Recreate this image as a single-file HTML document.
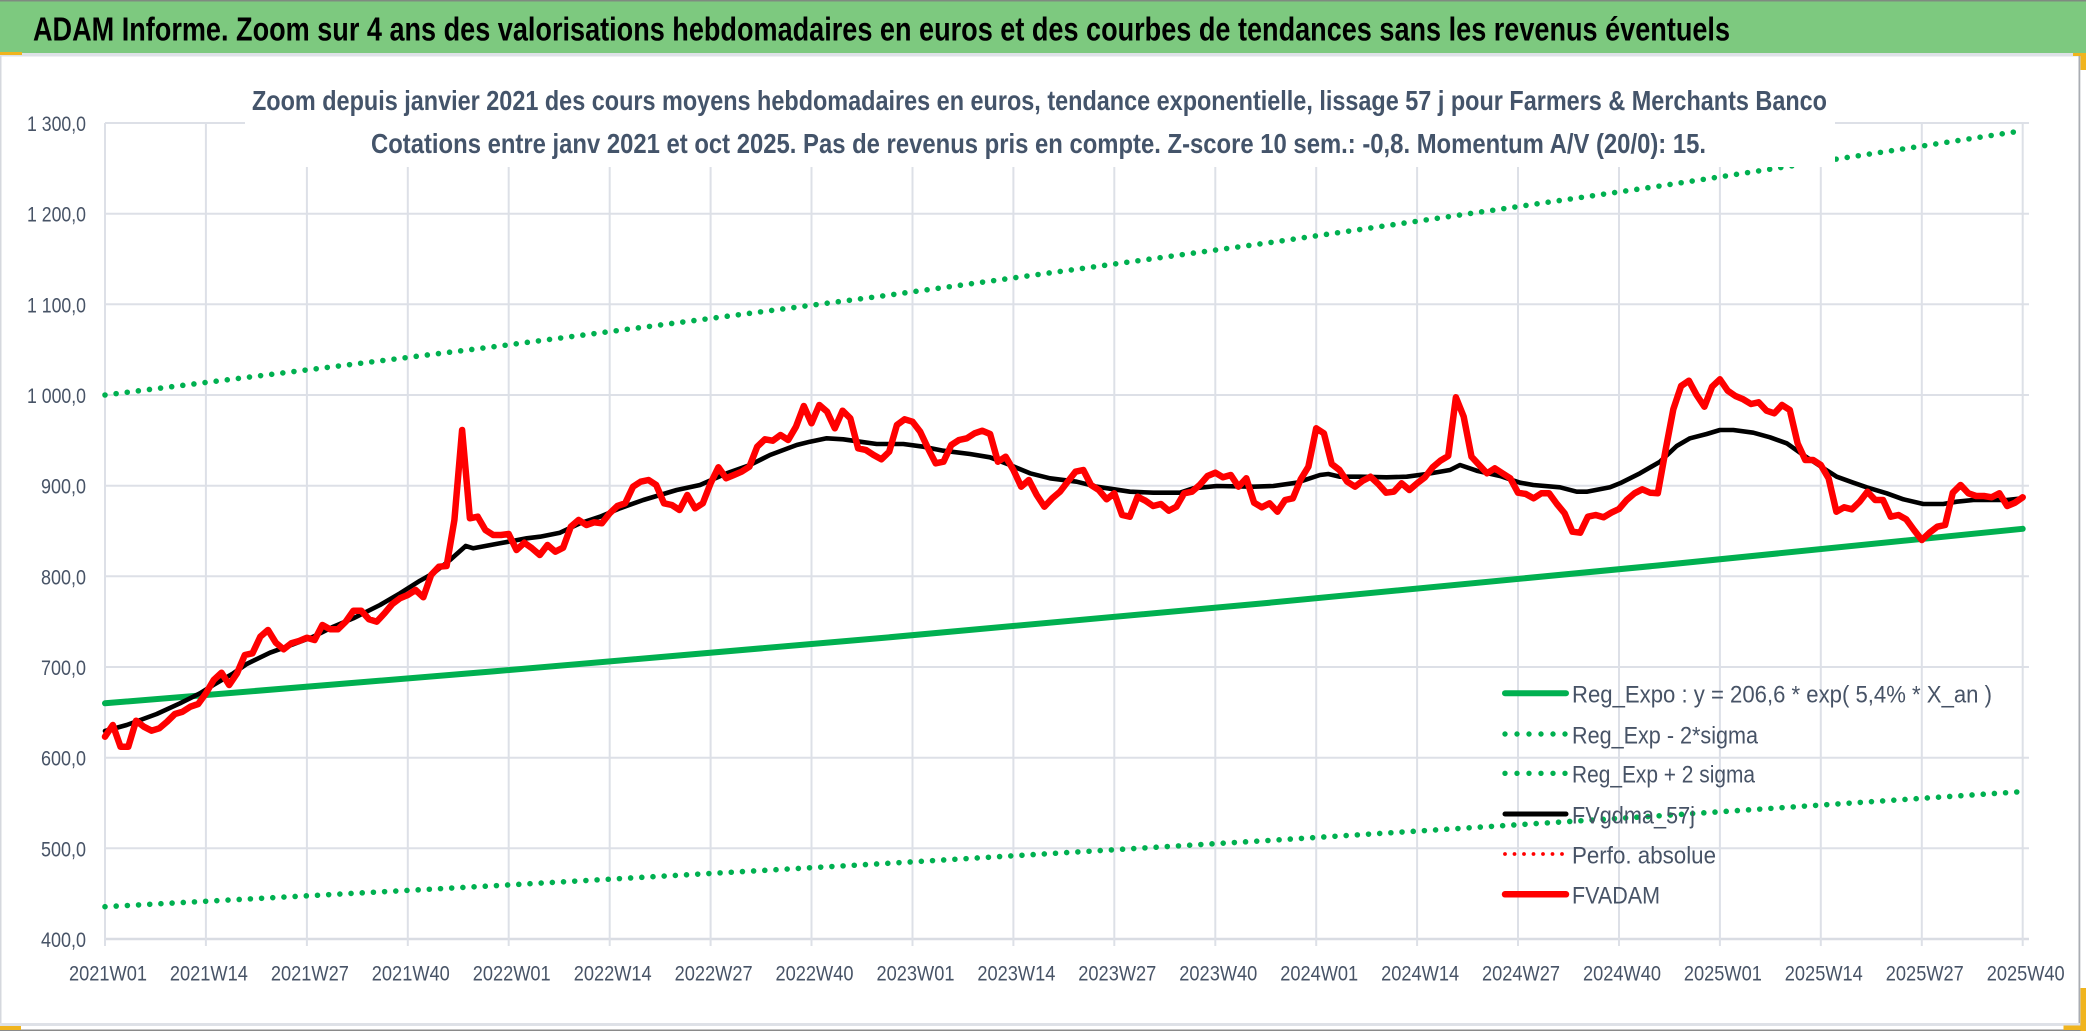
<!DOCTYPE html>
<html>
<head>
<meta charset="utf-8">
<style>
html,body{margin:0;padding:0;background:#fff;}
body{width:2086px;height:1031px;overflow:hidden;}
svg{display:block;}
text{font-family:"Liberation Sans",Arial,sans-serif;}
</style>
</head>
<body>
<svg width="2086" height="1031" viewBox="0 0 2086 1031" xmlns="http://www.w3.org/2000/svg">
  <!-- backgrounds -->
  <rect x="0" y="0" width="2086" height="1031" fill="#ffffff"/>
  <rect x="0" y="0" width="2086" height="53" fill="#7DC97F"/>
  <rect x="0" y="0" width="2086" height="1.5" fill="#7f8a80"/>
  <rect x="0" y="53" width="2086" height="3.5" fill="#DEE1E7"/>
  <rect x="0" y="52" width="22" height="3" fill="#F0B41E"/>
  <rect x="0" y="56" width="1.5" height="970" fill="#D5D8DE"/>
  <rect x="2078.5" y="56" width="1.8" height="970" fill="#A9ADB3"/>
  <rect x="0" y="1023" width="2080" height="3" fill="#DEE1E7"/>
  <rect x="0" y="1029.5" width="2086" height="1.5" fill="#8a8a8a"/>
  <rect x="0" y="1026" width="21" height="4" fill="#F0B41E"/>
  <rect x="2080.5" y="54" width="5.5" height="16" fill="#F0B41E"/>
  <rect x="2073" y="53" width="13" height="3" fill="#F0B41E"/>
  <rect x="2080.5" y="988" width="5.5" height="43" fill="#F0B41E"/>
  <rect x="2063.5" y="1025.5" width="22.5" height="4.5" fill="#F0B41E"/>

  <!-- header title -->
  <text x="33" y="40.5" font-size="33.5" font-weight="bold" fill="#000" textLength="1697" lengthAdjust="spacingAndGlyphs">ADAM Informe. Zoom sur 4 ans des valorisations hebdomadaires en euros et des courbes de tendances sans les revenus éventuels</text>

  <!-- horizontal gridlines -->
  <g stroke="#DDE0E7" stroke-width="2">
    <line x1="105" y1="123" x2="2029" y2="123"/>
    <line x1="105" y1="213.7" x2="2029" y2="213.7"/>
    <line x1="105" y1="304.3" x2="2029" y2="304.3"/>
    <line x1="105" y1="395" x2="2029" y2="395"/>
    <line x1="105" y1="485.7" x2="2029" y2="485.7"/>
    <line x1="105" y1="576.3" x2="2029" y2="576.3"/>
    <line x1="105" y1="667" x2="2029" y2="667"/>
    <line x1="105" y1="757.7" x2="2029" y2="757.7"/>
    <line x1="105" y1="848.3" x2="2029" y2="848.3"/>
  </g>
  <line x1="105" y1="939" x2="2029" y2="939" stroke="#D9DCE3" stroke-width="2.5"/>
  <!-- vertical gridlines + ticks -->
  <g stroke="#DDE0E7" stroke-width="2">
    <line x1="105" y1="123" x2="105" y2="946"/>
    <line x1="205.9" y1="123" x2="205.9" y2="946"/>
    <line x1="306.9" y1="123" x2="306.9" y2="946"/>
    <line x1="407.8" y1="123" x2="407.8" y2="946"/>
    <line x1="508.7" y1="123" x2="508.7" y2="946"/>
    <line x1="609.7" y1="123" x2="609.7" y2="946"/>
    <line x1="710.6" y1="123" x2="710.6" y2="946"/>
    <line x1="811.5" y1="123" x2="811.5" y2="946"/>
    <line x1="912.5" y1="123" x2="912.5" y2="946"/>
    <line x1="1013.4" y1="123" x2="1013.4" y2="946"/>
    <line x1="1114.3" y1="123" x2="1114.3" y2="946"/>
    <line x1="1215.3" y1="123" x2="1215.3" y2="946"/>
    <line x1="1316.2" y1="123" x2="1316.2" y2="946"/>
    <line x1="1417.1" y1="123" x2="1417.1" y2="946"/>
    <line x1="1518" y1="123" x2="1518" y2="946"/>
    <line x1="1619" y1="123" x2="1619" y2="946"/>
    <line x1="1719.9" y1="123" x2="1719.9" y2="946"/>
    <line x1="1820.8" y1="123" x2="1820.8" y2="946"/>
    <line x1="1921.8" y1="123" x2="1921.8" y2="946"/>
    <line x1="2022.7" y1="123" x2="2022.7" y2="946"/>
  </g>

  <!-- Reg_Expo solid -->
  <polyline fill="none" stroke="#00B050" stroke-width="6" stroke-linecap="round" stroke-linejoin="round"
    points="105,703.3 493.2,671.4 881.4,638 1269.6,602.7 1657.8,565.5 2022.7,528.8"/>
  <!-- upper dotted -->
  <polyline fill="none" stroke="#00B050" stroke-width="5.6" stroke-linecap="round" stroke-dasharray="0 11.2"
    points="105,395 493.2,346.8 881.4,296.1 1269.6,242.6 1657.8,186.3 2022.7,130.7"/>
  <!-- lower dotted -->
  <polyline fill="none" stroke="#00B050" stroke-width="5.6" stroke-linecap="round" stroke-dasharray="0 11.2"
    points="105,906.7 493.2,885.8 881.4,863.7 1269.6,840.4 1657.8,815.9 2022.7,791.6"/>

  <!-- FVgdma_57j black -->
  <polyline fill="none" stroke="#000" stroke-width="4.6" stroke-linecap="round" stroke-linejoin="round"
    points="105,731 126.7,725 156.7,714 180,703.3 200,693.3 213.3,685 233.3,673.3 246.7,664 270,652.7 286.7,646.7 313.3,636.7 333.3,626.7 353.3,618.3 380,605 400,593.3 420,580.7 433.3,573.3 450,560 465.7,546 473.3,548.3 500,543.3 526.7,538.3 540,536.7 560,532.7 580,523.3 600,516.7 620,508.3 643.3,500 676.7,490 700,485 726.7,473.3 750,465 770,455 796.7,445 810,441.7 826.7,438.3 843.3,439.3 860,441.7 876.7,444 903.3,444 923.3,446.7 943.3,450.7 970,454 990,457.3 1010,465 1030,473.3 1050,478.3 1076.7,481.7 1096.7,486.7 1130,491.7 1153.3,492.7 1180,492.7 1193.3,488.3 1216.7,486 1253.3,486.7 1273.3,486 1296.7,482.7 1320,475 1328.3,474 1340,476.7 1360,476.7 1386.7,477.3 1406.7,476.7 1426.7,474 1450,470 1460,465 1476.7,470.7 1500,476 1520,482.7 1533.3,485 1560,487.3 1576.7,491.7 1586.7,491.7 1610,487.3 1620,483.3 1640,473.3 1660,461.7 1676.7,446 1690,438.3 1706.7,434 1720,430 1733.3,430 1753.3,432.7 1770,437.3 1786.7,443.3 1803.3,455 1820,466 1836.7,476.7 1853.3,482.7 1866.7,487.3 1886.7,493.3 1903.3,499.3 1923.3,504 1943.3,504 1956.7,501.7 1973.3,500 1993.3,500 2006.7,500 2022.7,498.3"/>

  <!-- FVADAM red -->
  <polyline fill="none" stroke="#FF0000" stroke-width="6.5" stroke-linecap="round" stroke-linejoin="round"
    points="105,736.7 112.8,725 120.5,746.7 128.3,746.7 136.1,720.7 143.8,726.7 151.6,730.7 159.3,728.3 167.1,721.7 174.9,714 182.6,711.7 190.4,706.7 198.2,704 205.9,693.3 213.7,680 221.5,672.7 229.2,685 237,673.3 244.8,655 252.5,653.3 260.3,636.7 268,630 275.8,642.7 283.6,649.3 291.3,643.3 299.1,641 306.9,637.7 314.6,640 322.4,625 330.2,629.3 337.9,629.3 345.7,621.7 353.4,610.7 361.2,610.7 369,619.3 376.7,621.7 384.5,613.3 392.3,604 400,598.3 407.8,595 415.6,590 423.3,597.3 431.1,575 438.9,566.7 446.6,566 454.4,520 462.1,430 469.9,518.3 477.7,516.7 485.4,530 493.2,535 501,535 508.7,534 516.5,550 524.3,542.7 532,548.3 539.8,555 547.5,545 555.3,551.7 563.1,547.7 570.8,526.7 578.6,520 586.4,525 594.1,522.3 601.9,523.3 609.7,513.3 617.4,506 625.2,503.3 633,486.7 640.7,481.7 648.5,480 656.2,485 664,503.3 671.8,505 679.5,510 687.3,495 695.1,508.3 702.8,503.3 710.6,483.3 718.4,467.3 726.1,478.3 733.9,475 741.6,471.7 749.4,466.7 757.2,446.7 764.9,439.3 772.7,440.7 780.5,435 788.2,440 796,426.7 803.8,406 811.5,423.3 819.3,405 827.1,411.7 834.8,428.3 842.6,410.7 850.3,418.3 858.1,448.3 865.9,450 873.6,455 881.4,459.3 889.2,451.7 896.9,425 904.7,419.3 912.5,421.7 920.2,431.7 928,448.3 935.7,463.3 943.5,461.7 951.3,445 959,440 966.8,438.3 974.6,433.3 982.3,430.7 990.1,434 997.9,461.7 1005.6,456.7 1013.4,470 1021.2,486.7 1028.9,480 1036.7,495 1044.4,506.7 1052.2,498.3 1060,491.7 1067.7,481.7 1075.5,471.7 1083.3,470 1091,485 1098.8,490 1106.6,499.3 1114.3,493.3 1122.1,515 1129.8,516.7 1137.6,496.7 1145.4,500.7 1153.1,506 1160.9,504 1168.7,510.7 1176.4,506.7 1184.2,493.3 1192,491.7 1199.7,485 1207.5,476 1215.3,472.7 1223,477.3 1230.8,475 1238.5,486.7 1246.3,478.3 1254.1,502.7 1261.8,507.3 1269.6,503.3 1277.4,511.7 1285.1,500 1292.9,498.3 1300.7,479.3 1308.4,466.7 1316.2,428.3 1323.9,433.3 1331.7,464 1339.5,470 1347.2,481.7 1355,486.7 1362.8,480.7 1370.5,476.7 1378.3,484 1386.1,492.7 1393.8,491.7 1401.6,483.3 1409.4,490 1417.1,483.3 1424.9,477.3 1432.6,467.3 1440.4,460.7 1448.2,456 1455.9,397.3 1463.7,416.7 1471.5,456.7 1479.2,465 1487,473.3 1494.8,468.3 1502.5,473.3 1510.3,478.3 1518,492.7 1525.8,494 1533.6,498.3 1541.3,493.3 1549.1,493.3 1556.9,504 1564.6,513.3 1572.4,531.7 1580.2,532.7 1587.9,516.7 1595.7,515 1603.5,517.3 1611.2,512.7 1619,509 1626.7,500 1634.5,493.3 1642.3,489.3 1650,492.7 1657.8,493.3 1665.6,450 1673.3,409.3 1681.1,386 1688.9,380.7 1696.6,395 1704.4,406.7 1712.1,386.7 1719.9,379.3 1727.7,390.7 1735.4,396 1743.2,399.3 1751,404 1758.7,402.3 1766.5,410.7 1774.3,413.3 1782,405 1789.8,410 1797.6,443.3 1805.3,460 1813.1,460 1820.8,465 1828.6,478.3 1836.4,511.7 1844.1,507.3 1851.9,509.3 1859.7,501.7 1867.4,491.7 1875.2,500 1883,500 1890.7,516.7 1898.5,515 1906.2,519.3 1914,530 1921.8,540 1929.5,532.7 1937.3,526.7 1945.1,525 1952.8,492.7 1960.6,485 1968.4,493.3 1976.1,496 1983.9,496 1991.7,497.3 1999.4,493.3 2007.2,506 2015,502.7 2022.7,497.3"/>

  <!-- title box (white, covers gridlines) -->
  <rect x="245" y="57" width="1590" height="110" fill="#ffffff"/>
  <text x="252" y="110" font-size="28" font-weight="bold" fill="#44546A" textLength="1575" lengthAdjust="spacingAndGlyphs">Zoom depuis janvier 2021 des cours moyens hebdomadaires en euros, tendance exponentielle, lissage 57 j pour Farmers &amp; Merchants Banco</text>
  <text x="371" y="153" font-size="28" font-weight="bold" fill="#44546A" textLength="1335" lengthAdjust="spacingAndGlyphs">Cotations entre janv 2021 et oct 2025. Pas de revenus pris en compte. Z-score 10 sem.: -0,8. Momentum A/V (20/0): 15.</text>

  <!-- Y axis labels -->
  <g font-size="21" fill="#475366" text-anchor="end">
    <text x="86" y="131" textLength="59" lengthAdjust="spacingAndGlyphs">1 300,0</text>
    <text x="86" y="221.7" textLength="59" lengthAdjust="spacingAndGlyphs">1 200,0</text>
    <text x="86" y="312.3" textLength="59" lengthAdjust="spacingAndGlyphs">1 100,0</text>
    <text x="86" y="403" textLength="59" lengthAdjust="spacingAndGlyphs">1 000,0</text>
    <text x="86" y="493.7" textLength="45" lengthAdjust="spacingAndGlyphs">900,0</text>
    <text x="86" y="584.3" textLength="45" lengthAdjust="spacingAndGlyphs">800,0</text>
    <text x="86" y="675" textLength="45" lengthAdjust="spacingAndGlyphs">700,0</text>
    <text x="86" y="765.7" textLength="45" lengthAdjust="spacingAndGlyphs">600,0</text>
    <text x="86" y="856.3" textLength="45" lengthAdjust="spacingAndGlyphs">500,0</text>
    <text x="86" y="947" textLength="45" lengthAdjust="spacingAndGlyphs">400,0</text>
  </g>

  <!-- X axis labels -->
  <g font-size="21.5" fill="#475366">
    <text x="69" y="980.5" textLength="78" lengthAdjust="spacingAndGlyphs">2021W01</text>
    <text x="169.9" y="980.5" textLength="78" lengthAdjust="spacingAndGlyphs">2021W14</text>
    <text x="270.9" y="980.5" textLength="78" lengthAdjust="spacingAndGlyphs">2021W27</text>
    <text x="371.8" y="980.5" textLength="78" lengthAdjust="spacingAndGlyphs">2021W40</text>
    <text x="472.7" y="980.5" textLength="78" lengthAdjust="spacingAndGlyphs">2022W01</text>
    <text x="573.7" y="980.5" textLength="78" lengthAdjust="spacingAndGlyphs">2022W14</text>
    <text x="674.6" y="980.5" textLength="78" lengthAdjust="spacingAndGlyphs">2022W27</text>
    <text x="775.5" y="980.5" textLength="78" lengthAdjust="spacingAndGlyphs">2022W40</text>
    <text x="876.5" y="980.5" textLength="78" lengthAdjust="spacingAndGlyphs">2023W01</text>
    <text x="977.4" y="980.5" textLength="78" lengthAdjust="spacingAndGlyphs">2023W14</text>
    <text x="1078.3" y="980.5" textLength="78" lengthAdjust="spacingAndGlyphs">2023W27</text>
    <text x="1179.3" y="980.5" textLength="78" lengthAdjust="spacingAndGlyphs">2023W40</text>
    <text x="1280.2" y="980.5" textLength="78" lengthAdjust="spacingAndGlyphs">2024W01</text>
    <text x="1381.1" y="980.5" textLength="78" lengthAdjust="spacingAndGlyphs">2024W14</text>
    <text x="1482" y="980.5" textLength="78" lengthAdjust="spacingAndGlyphs">2024W27</text>
    <text x="1583" y="980.5" textLength="78" lengthAdjust="spacingAndGlyphs">2024W40</text>
    <text x="1683.9" y="980.5" textLength="78" lengthAdjust="spacingAndGlyphs">2025W01</text>
    <text x="1784.8" y="980.5" textLength="78" lengthAdjust="spacingAndGlyphs">2025W14</text>
    <text x="1885.8" y="980.5" textLength="78" lengthAdjust="spacingAndGlyphs">2025W27</text>
    <text x="1986.7" y="980.5" textLength="78" lengthAdjust="spacingAndGlyphs">2025W40</text>
  </g>

  <!-- Legend -->
  <g>
    <line x1="1505" y1="693.3" x2="1566" y2="693.3" stroke="#00B050" stroke-width="6" stroke-linecap="round"/>
    <line x1="1505" y1="734" x2="1567" y2="734" stroke="#00B050" stroke-width="5.4" stroke-linecap="round" stroke-dasharray="0 12"/>
    <line x1="1505" y1="773.3" x2="1567" y2="773.3" stroke="#00B050" stroke-width="5.4" stroke-linecap="round" stroke-dasharray="0 12"/>
    <line x1="1505" y1="814" x2="1566" y2="814" stroke="#000" stroke-width="5" stroke-linecap="round"/>
    <line x1="1505" y1="854" x2="1566" y2="854" stroke="#FF0000" stroke-width="3.8" stroke-linecap="round" stroke-dasharray="0 9.5"/>
    <line x1="1505" y1="894.3" x2="1566" y2="894.3" stroke="#FF0000" stroke-width="6.5" stroke-linecap="round"/>
  </g>
  <g font-size="24" fill="#475366">
    <text x="1572" y="702.7" textLength="420" lengthAdjust="spacingAndGlyphs">Reg_Expo : y = 206,6 * exp( 5,4% *  X_an )</text>
    <text x="1572" y="743.4" textLength="186" lengthAdjust="spacingAndGlyphs">Reg_Exp - 2*sigma</text>
    <text x="1572" y="782.7" textLength="183" lengthAdjust="spacingAndGlyphs">Reg_Exp + 2 sigma</text>
    <text x="1572" y="823.4" textLength="123" lengthAdjust="spacingAndGlyphs">FVgdma_57j</text>
    <text x="1572" y="863.4" textLength="144" lengthAdjust="spacingAndGlyphs">Perfo. absolue</text>
    <text x="1572" y="903.7" textLength="88" lengthAdjust="spacingAndGlyphs">FVADAM</text>
  </g>
</svg>
</body>
</html>
